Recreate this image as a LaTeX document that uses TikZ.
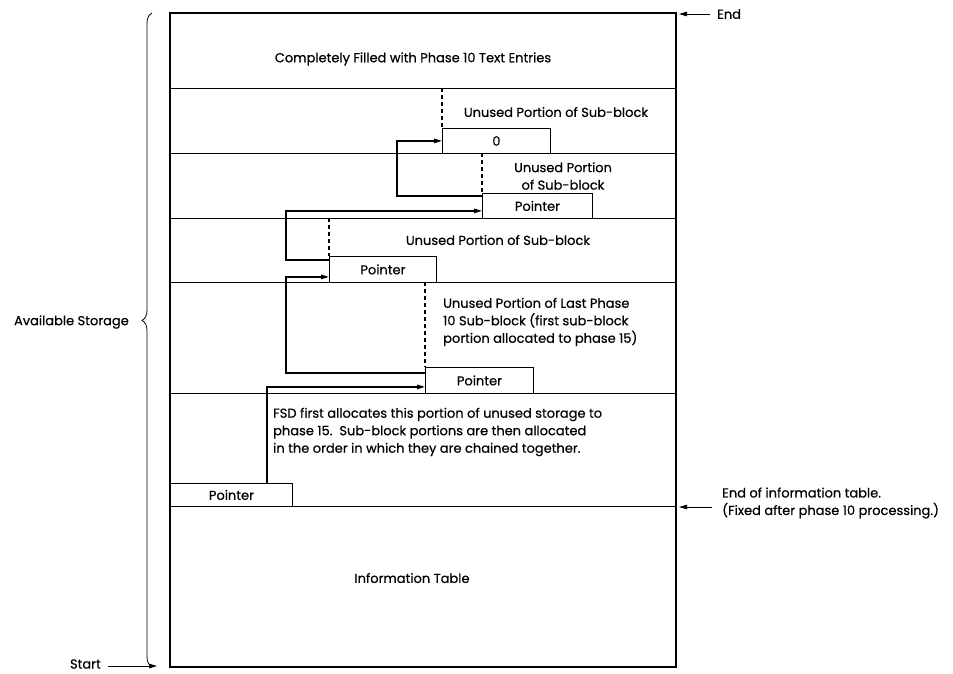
\documentclass[tikz,border=0pt]{standalone}
\usepackage{fontspec}
\setmainfont{Poppins}[FakeBold=0.5]
\usetikzlibrary{arrows.meta,decorations.pathreplacing}
\begin{document}
\begin{tikzpicture}[x=1pt,y=-1pt,
  frame/.style={line width=1.4pt},
  rowline/.style={line width=0.8pt},
  link/.style={line width=1.3pt,-{Triangle[length=8pt,width=4.5pt]}},
  gap/.style={line width=1.1pt,dash pattern=on 4pt off 3pt},
  ptr/.style={draw,line width=0.9pt,anchor=north west,inner sep=0pt,font=\fontsize{13}{15}\selectfont},
  lbl/.style={inner sep=0pt,font=\fontsize{13}{17.5}\selectfont},
]
\useasboundingbox (0,0) rectangle (953,673);

% storage column and its horizontal divisions
\draw[frame] (170,13) rectangle (676,667);
\foreach \yy in {88,153,218,282,393,506}
  \draw[rowline] (170,\yy) -- (676,\yy);

% pointer fields at the foot of each sub-block portion
\node[ptr,minimum width=108pt,minimum height=25pt] (p0) at (442,128) {0};
\node[ptr,minimum width=110pt,minimum height=25pt] (p1) at (482,193) {Pointer};
\node[ptr,minimum width=107pt,minimum height=26pt] (p2) at (329,256) {Pointer};
\node[ptr,minimum width=108pt,minimum height=26pt] (p3) at (425,367) {Pointer};
\node[ptr,minimum width=122pt,minimum height=23pt] (p4) at (170,483) {Pointer};

% dashed boundaries of the unused portions
\coordinate (d0) at (442,88);
\coordinate (d1) at (482,153);
\coordinate (d2) at (329,218);
\coordinate (d3) at (425,282);
\draw[gap] (d0) -- (p0.north west);
\draw[gap] (d1) -- (p1.north west);
\draw[gap] (d2) -- (p2.north west);
\draw[gap] (d3) -- (p3.north west);

% vertical runs of the chain
\coordinate (trunkA) at (286,0);
\coordinate (trunkB) at (397,0);

% chain of pointers
\draw[link] ([xshift=97pt]p4.north west) |- ([yshift=7pt]p3.south west);
\draw[link] ([yshift=21pt]p3.south west) -- ([yshift=21pt]p3.south west -| trunkA)
  |- ([yshift=6pt]p2.south west);
\draw[link] ([yshift=-4pt]p2.north west) -- ([yshift=-4pt]p2.north west -| trunkA)
  |- ([yshift=8pt]p1.south west);
\draw[link] ([yshift=-3pt]p1.north west) -- ([yshift=-3pt]p1.north west -| trunkB)
  |- ([yshift=13pt]p0.south west);

% texts inside the column
\node[lbl] (t0) at (413,59) {Completely Filled with Phase 10 Text Entries};
\node[lbl] (t1) at (556,112) {Unused Portion of Sub-block};
\node[lbl,align=center] (t2) at (563,176) {Unused Portion\\of Sub-block};
\node[lbl] (t3) at (498,240) {Unused Portion of Sub-block};
\node[lbl,align=left,anchor=west] (t4) at (443,322) {Unused Portion of Last Phase\\10 Sub-block (first sub-block\\portion allocated to phase 15)};
\node[lbl,align=left,anchor=west] (t5) at (273,432) {FSD first allocates this portion of unused storage to\\phase 15.\ \ Sub-block portions are then allocated\\in the order in which they are chained together.};
\node[lbl] (t6) at (412,578) {Information Table};

% brace and labels outside the column
\coordinate (bb) at (152,667);
\coordinate (bt) at (152,13);
\draw[line width=0.8pt,decorate,decoration={brace,amplitude=10pt,aspect=0.53}] (bb) -- (bt);
\node[lbl,anchor=east] (avail) at (129,322) {Available Storage};

\node[lbl,anchor=east] (start) at (101,664) {Start};
\coordinate (startTip) at (157,666);
\draw[line width=0.9pt,-{Triangle[length=8pt,width=4.5pt]}] (108,666) coordinate (startTail) (startTail) -- (startTip);

\node[lbl,anchor=west] (endl) at (717,14) {End};
\coordinate (endTip) at (679,14);
\draw[line width=0.9pt,-{Triangle[length=8pt,width=4.5pt]}] ([xshift=-7pt]endl.west) -- (endTip);

\node[lbl,align=left,anchor=west] (infoend) at (722,503) {End of information table.\\(Fixed after phase 10 processing.)};
\coordinate (infoTip) at (679,507);
\draw[line width=0.9pt,-{Triangle[length=8pt,width=4.5pt]}] (712,507) coordinate (infoTail) (infoTail) -- (infoTip);
\end{tikzpicture}
\end{document}
